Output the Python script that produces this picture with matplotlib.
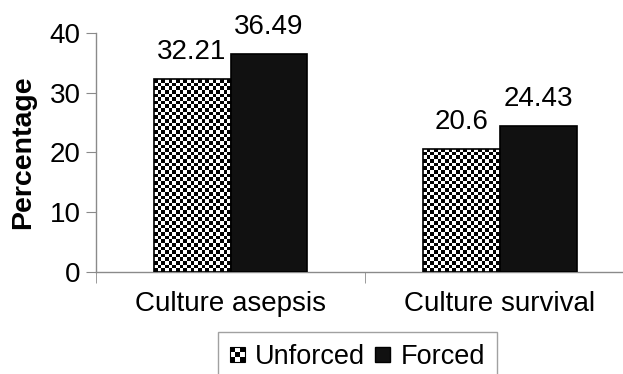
import numpy as np
import matplotlib
matplotlib.use("Agg")
import matplotlib.pyplot as plt
from matplotlib.patches import Rectangle
from matplotlib.legend_handler import HandlerBase

plt.rcParams['font.family'] = ['Liberation Sans', 'DejaVu Sans']

categories = ["Culture asepsis", "Culture survival"]
series_names = ["Unforced", "Forced"]
unforced = [32.21, 20.6]
forced = [36.49, 24.43]
labels_unforced = ["32.21", "20.6"]
labels_forced = ["36.49", "24.43"]
yticks = [0, 10, 20, 30, 40]

GREY = "#8a8a8a"
FS = 20
CELL_PX = 3.6  # checker cell size in pixels


def checker(nx, ny):
    yy, xx = np.mgrid[0:ny, 0:nx]
    return ((xx + yy) % 2).astype(float)


def fill_checker(ax, bar):
    # cover a bar with a black/white checkerboard clipped to its outline
    x0, y0 = bar.get_x(), bar.get_y()
    x1, y1 = x0 + bar.get_width(), y0 + bar.get_height()
    p0 = ax.transData.transform((x0, y0))
    p1 = ax.transData.transform((x1, y1))
    nx = max(1, int(round(abs(p1[0] - p0[0]) / CELL_PX)))
    ny = max(1, int(round(abs(p1[1] - p0[1]) / CELL_PX)))
    im = ax.imshow(checker(nx, ny), cmap="gray", extent=(x0, x1, y0, y1),
                   aspect="auto", interpolation="nearest", zorder=2,
                   origin="lower")
    im.set_clip_path(bar)


class HandlerChecker(HandlerBase):
    def create_artists(self, legend, orig_handle, xdescent, ydescent,
                       width, height, fontsize, trans):
        side = min(width, height)
        x0 = -xdescent + (width - side) / 2
        y0 = -ydescent + (height - side) / 2
        n = 3
        s = side / n
        arts = [Rectangle((x0, y0), side, side, facecolor="white",
                          edgecolor="black", lw=0.8, transform=trans)]
        for i in range(n):
            for j in range(n):
                if (i + j) % 2 == 0:
                    arts.append(Rectangle((x0 + i * s, y0 + j * s), s, s,
                                          facecolor="black", edgecolor="none",
                                          transform=trans))
        return arts


class HandlerSquare(HandlerBase):
    def create_artists(self, legend, orig_handle, xdescent, ydescent,
                       width, height, fontsize, trans):
        side = min(width, height)
        x0 = -xdescent + (width - side) / 2
        y0 = -ydescent + (height - side) / 2
        return [Rectangle((x0, y0), side, side, facecolor="#111111",
                          edgecolor="black", transform=trans)]


fig = plt.figure(figsize=(6.23, 3.74), dpi=100)
ax = fig.add_axes([0.154, 0.273, 0.864, 0.639])

x = np.arange(len(categories))
w = 0.286
ax.set_xlim(-0.5, 1.5)
ax.set_ylim(0, 40)

bars_u = ax.bar(x - w / 2, unforced, w, facecolor="none", edgecolor="black",
                linewidth=1.2, zorder=3)
for b in bars_u:
    fill_checker(ax, b)
bars_f = ax.bar(x + w / 2, forced, w, facecolor="#111111", edgecolor="black",
                linewidth=1.2, zorder=3)

for b, t in zip(bars_u, labels_unforced):
    ax.text(b.get_x() + b.get_width() / 2, b.get_height() + 3.4, t,
            ha="center", va="baseline", fontsize=FS)
for b, t in zip(bars_f, labels_forced):
    ax.text(b.get_x() + b.get_width() / 2, b.get_height() + 3.4, t,
            ha="center", va="baseline", fontsize=FS)

for s in ["top", "right"]:
    ax.spines[s].set_visible(False)
for s in ["left", "bottom"]:
    ax.spines[s].set_color(GREY)
    ax.spines[s].set_linewidth(1.0)

ax.set_yticks(yticks)
ax.tick_params(axis="y", length=7, color=GREY, labelsize=FS, pad=4)
ax.set_xticks(x)
ax.set_xticklabels(categories)
ax.tick_params(axis="x", which="major", length=0, labelsize=FS, pad=14)
ax.set_xticks([-0.5, 0.5, 1.5], minor=True)
ax.tick_params(axis="x", which="minor", length=8, color=GREY)

ax.set_ylabel("Percentage", fontsize=20.5, fontweight="bold", labelpad=10)

h1 = Rectangle((0, 0), 1, 1)
h2 = Rectangle((0, 0), 1, 1)
leg = fig.legend([h1, h2], series_names, ncol=2, loc="upper center",
                 bbox_to_anchor=(0.574, 0.112), borderaxespad=0,
                 fontsize=19.5, frameon=True, fancybox=False,
                 handlelength=0.55, handleheight=0.55, handletextpad=0.37,
                 columnspacing=0.37, borderpad=0.45,
                 handler_map={h1: HandlerChecker(), h2: HandlerSquare()})
leg.get_frame().set_edgecolor(GREY)
leg.get_frame().set_linewidth(1.0)

fig.savefig("out.png", dpi=100)
